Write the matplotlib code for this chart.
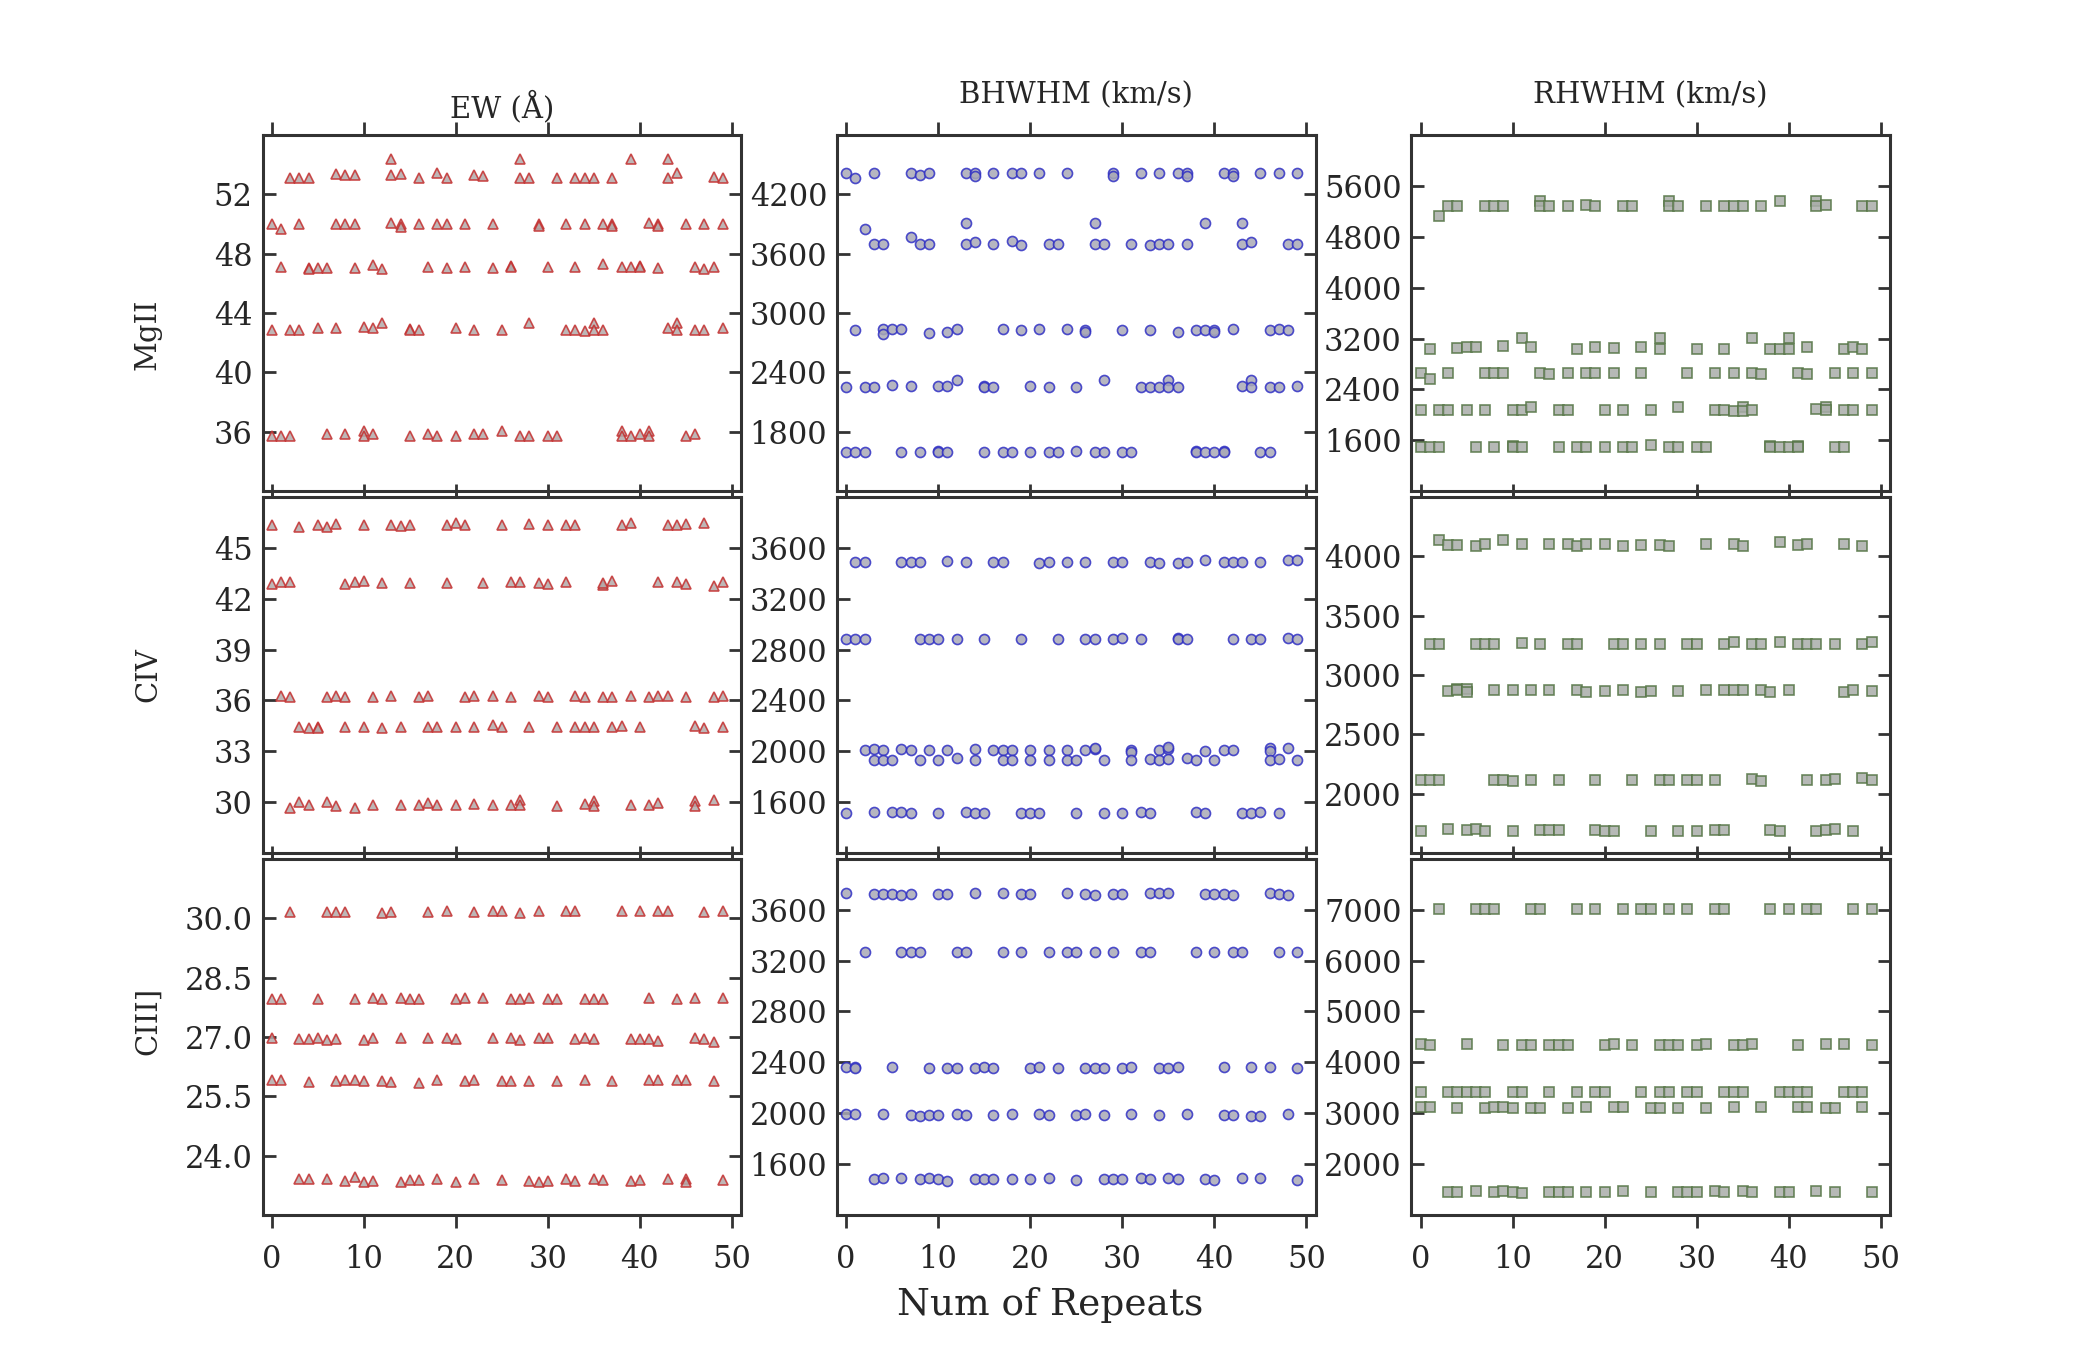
import matplotlib
matplotlib.use('Agg')
import matplotlib.pyplot as plt
from matplotlib.ticker import FormatStrFormatter

plt.rcParams['font.family'] = ['DejaVu Serif', 'DejaVu Sans']

# ---------------- data ----------------
lines = ['MgII', 'CIV', 'CIII]']
columns = ['EW (Å)', 'BHWHM (km/s)', 'RHWHM (km/s)']

mgii_ew_x = [2,3,4,7,8,9,13,13,14,16,18,19,22,23,27,27,28,31,33,34,35,37,39,43,43,44,48,49,
             0,1,3,7,8,9,13,14,14,16,18,19,21,24,29,29,32,34,36,37,37,41,42,42,45,47,49,
             1,4,4,5,6,9,11,12,17,19,21,24,26,26,30,33,36,38,39,40,40,42,46,47,48,
             0,2,3,5,7,10,11,12,15,15,16,20,22,25,28,32,33,34,35,35,36,43,44,44,46,47,49,
             0,1,2,6,8,10,10,11,15,17,18,20,22,23,25,27,28,30,31,38,38,39,40,41,41,45,46]
mgii_ew_y = [53.07,53.12,53.12,53.36,53.30,53.30,54.37,53.30,53.39,53.07,53.43,53.07,53.30,53.25,54.37,53.12,53.12,53.12,53.07,53.12,53.12,53.12,54.37,54.37,53.12,53.43,53.16,53.12,
             50.0,49.65,50.0,50.0,50.0,50.0,50.05,50.0,49.8,50.0,50.0,50.0,50.0,50.0,50.0,49.85,50.0,50.0,50.0,50.0,49.85,50.05,50.0,49.85,50.0,50.0,50.0,
             47.10,47.03,46.98,47.03,47.03,47.03,47.26,46.99,47.10,47.03,47.10,47.03,47.19,47.12,47.10,47.10,47.30,47.10,47.10,47.19,47.10,47.03,47.10,46.99,47.10,
             42.85,42.85,42.89,43.0,43.0,43.05,43.0,43.34,42.93,42.85,42.85,43.0,42.85,42.85,43.34,42.85,42.85,42.78,43.3,42.85,42.85,43.0,43.34,42.85,42.85,42.85,43.0,
             35.74,35.74,35.74,35.85,35.85,36.07,35.74,35.85,35.74,35.85,35.74,35.74,35.85,35.85,36.07,35.74,35.74,35.74,35.74,36.07,35.70,35.74,35.85,36.07,35.70,35.74,35.85]

mgii_bh_x = [0,1,3,7,8,9,13,14,14,16,18,19,21,24,29,29,32,34,36,37,37,41,42,42,45,47,49,
             2,3,4,7,8,9,13,13,14,16,18,19,22,23,27,27,28,31,33,34,35,37,39,43,43,44,48,49,
             1,4,4,5,6,9,11,12,17,19,21,24,26,26,30,33,36,38,39,40,40,42,46,47,48,
             0,2,3,5,7,10,11,12,15,15,16,20,22,25,28,32,33,34,35,35,36,43,44,44,46,47,49,
             0,1,2,6,8,10,10,11,15,17,18,20,22,23,25,27,28,30,31,38,38,39,40,41,41,45,46]
mgii_bh_y = [4414,4361,4414,4414,4398,4414,4414,4414,4384,4414,4420,4414,4414,4414,4414,4384,4414,4414,4414,4414,4384,4414,4414,4384,4414,4414,4414,
             3845,3694,3694,3774,3694,3694,3912,3694,3717,3694,3724,3687,3694,3694,3912,3694,3694,3694,3687,3694,3694,3694,3912,3912,3694,3717,3694,3694,
             2829,2836,2792,2839,2839,2799,2809,2836,2836,2832,2836,2836,2826,2809,2829,2829,2809,2829,2829,2829,2809,2836,2829,2836,2829,
             2249,2249,2249,2273,2263,2263,2263,2326,2263,2249,2249,2263,2249,2249,2323,2249,2249,2249,2326,2249,2249,2263,2326,2249,2249,2249,2263,
             1592,1592,1592,1592,1592,1609,1592,1592,1592,1592,1592,1592,1592,1592,1609,1592,1592,1592,1592,1609,1592,1592,1592,1609,1592,1592,1592]

mgii_rh_x = [2,3,4,7,8,9,13,13,14,16,18,19,22,23,27,27,28,31,33,34,35,37,39,43,43,44,48,49,
             1,4,5,6,9,11,12,17,19,21,24,26,26,30,33,36,38,39,40,40,42,46,47,48,
             0,1,3,7,8,9,13,14,16,18,19,21,24,29,32,34,36,37,41,42,45,47,49,
             0,2,3,5,7,10,11,12,15,16,20,22,25,28,32,33,34,35,35,36,43,44,44,46,47,49,
             0,1,2,6,8,10,10,11,15,17,18,20,22,23,25,27,28,30,31,38,38,39,40,41,41,45,46]
mgii_rh_y = [5119,5276,5276,5291,5291,5291,5370,5276,5291,5276,5302,5276,5291,5291,5370,5276,5276,5276,5276,5276,5276,5276,5370,5370,5276,5302,5276,5276,
             3038,3053,3064,3064,3080,3205,3064,3038,3069,3053,3064,3205,3038,3038,3038,3205,3038,3038,3205,3038,3069,3038,3069,3038,
             2656,2567,2656,2656,2656,2656,2656,2646,2656,2656,2656,2656,2656,2656,2656,2656,2656,2646,2656,2646,2656,2656,2656,
             2081,2081,2081,2081,2081,2081,2081,2123,2081,2081,2081,2081,2081,2123,2081,2081,2060,2123,2060,2081,2097,2123,2081,2081,2081,2081,
             1490,1490,1490,1500,1500,1511,1490,1490,1490,1500,1490,1490,1500,1500,1521,1490,1490,1490,1490,1511,1490,1490,1500,1511,1495,1490,1500]

civ_ew_x = [0,3,5,6,7,10,13,14,15,19,20,21,25,28,30,32,33,38,39,43,44,45,47,
            0,1,2,8,9,10,12,15,19,23,26,27,29,30,32,36,36,37,42,44,45,48,49,
            1,2,6,7,8,11,13,16,17,21,22,24,26,29,30,33,34,36,37,39,41,42,43,45,48,49,
            3,4,5,5,8,10,12,14,17,18,20,22,24,25,28,31,33,34,35,37,38,40,46,47,49,
            2,3,4,6,7,9,11,14,16,17,18,20,22,24,26,27,27,31,34,35,35,39,41,42,46,46,48]
civ_ew_y = [46.37,46.22,46.37,46.22,46.41,46.33,46.37,46.29,46.33,46.37,46.47,46.33,46.33,46.41,46.33,46.33,46.33,46.37,46.45,46.37,46.33,46.41,46.45,
            42.88,43.0,43.0,42.88,43.0,43.04,42.94,42.94,42.94,42.94,43.0,43.0,42.94,42.88,43.0,42.80,42.94,43.04,43.0,43.0,42.88,42.75,43.0,
            36.29,36.18,36.22,36.29,36.18,36.22,36.29,36.22,36.25,36.22,36.25,36.29,36.18,36.29,36.22,36.25,36.18,36.22,36.18,36.25,36.22,36.29,36.25,36.18,36.18,36.25,
            34.45,34.35,34.41,34.35,34.41,34.41,34.37,34.45,34.41,34.45,34.45,34.45,34.53,34.45,34.45,34.41,34.41,34.41,34.41,34.45,34.49,34.45,34.49,34.37,34.45,
            29.67,30.02,29.86,30.02,29.80,29.67,29.82,29.82,29.82,29.98,29.82,29.82,29.90,29.86,29.86,30.14,29.86,29.80,29.90,30.10,29.75,29.82,29.86,29.94,30.06,29.78,30.14]

civ_bh_x = [1,2,6,7,8,11,13,16,17,21,22,24,26,29,30,33,34,36,37,39,41,42,43,45,48,49,
            0,1,2,8,9,10,12,15,19,23,26,27,29,30,32,36,36,37,42,44,45,48,49,
            2,3,4,6,7,9,11,14,16,17,18,20,22,24,26,27,27,31,31,34,35,35,39,41,42,46,46,48,
            3,4,5,8,10,12,14,17,18,20,22,24,25,28,31,33,34,35,37,38,40,46,47,49,
            0,3,5,6,7,10,13,14,15,19,20,21,25,28,30,32,33,38,39,43,44,45,47]
civ_bh_y = [3485,3485,3485,3485,3490,3498,3490,3485,3485,3477,3485,3485,3490,3485,3485,3485,3477,3477,3490,3506,3485,3485,3485,3490,3503,3506,
            2881,2881,2881,2881,2881,2881,2884,2881,2881,2881,2881,2881,2884,2892,2881,2892,2881,2884,2881,2881,2881,2892,2881,
            2008,2019,2013,2019,2013,2008,2008,2019,2013,2013,2013,2008,2013,2008,2013,2019,2026,2013,1992,2013,2019,2032,2000,2013,2013,2026,2000,2026,
            1932,1932,1932,1932,1932,1945,1932,1932,1932,1932,1932,1932,1932,1932,1932,1940,1932,1940,1945,1932,1932,1932,1940,1932,
            1519,1525,1525,1525,1519,1519,1525,1519,1519,1519,1519,1519,1519,1519,1519,1525,1519,1525,1519,1519,1519,1525,1519]

civ_rh_x = [2,3,4,6,7,9,11,14,16,17,18,20,22,24,26,27,31,34,35,39,41,42,46,48,
            1,2,6,7,8,11,13,16,17,21,22,24,26,29,30,33,34,36,37,39,41,42,43,45,48,49,
            3,4,4,5,5,8,10,12,14,17,18,20,22,24,25,28,31,33,34,35,37,38,40,46,47,49,
            0,1,2,8,9,10,12,15,19,23,26,27,29,30,32,36,37,42,44,45,48,49,
            0,3,5,6,7,10,13,14,15,19,20,21,25,28,30,32,33,38,39,43,44,45,47]
civ_rh_y = [4134,4095,4095,4084,4101,4134,4106,4101,4101,4084,4101,4101,4084,4095,4095,4084,4106,4101,4084,4117,4095,4101,4101,4084,
            3257,3257,3263,3263,3257,3268,3263,3257,3257,3257,3257,3263,3257,3257,3257,3263,3274,3263,3257,3279,3257,3257,3257,3257,3263,3279,
            2866,2886,2872,2886,2858,2872,2872,2877,2872,2872,2861,2866,2872,2858,2866,2866,2872,2872,2872,2877,2877,2858,2872,2858,2877,2866,
            2112,2112,2112,2112,2112,2106,2117,2112,2112,2112,2112,2112,2112,2117,2112,2123,2106,2112,2112,2123,2129,2112,
            1690,1704,1693,1704,1690,1690,1693,1693,1693,1693,1690,1690,1690,1690,1690,1693,1693,1693,1690,1690,1693,1699,1690]

ciii_ew_x = [2,6,7,8,12,13,17,19,22,24,25,27,29,32,33,38,40,42,43,47,49,
             0,1,5,9,11,12,14,15,16,20,21,23,26,27,28,30,31,34,35,36,41,44,46,49,
             0,3,4,5,6,7,10,11,14,17,19,20,24,26,27,29,30,33,34,35,39,40,41,42,46,47,48,
             0,1,4,7,8,9,10,12,13,16,18,21,22,25,26,28,31,34,37,41,42,44,45,48,
             3,4,6,8,9,10,11,14,15,16,18,20,22,25,28,29,30,32,33,35,36,39,40,43,45,45,49]
ciii_ew_y = [30.15,30.15,30.15,30.15,30.13,30.15,30.15,30.17,30.15,30.17,30.17,30.13,30.17,30.17,30.17,30.17,30.17,30.17,30.17,30.15,30.17,
             27.97,27.97,27.97,27.97,27.99,27.97,27.99,27.95,27.95,27.95,27.99,27.99,27.97,27.97,27.99,27.97,27.95,27.95,27.95,27.97,27.99,27.97,27.99,27.99,
             26.96,26.94,26.94,26.97,26.92,26.94,26.92,26.97,26.97,26.97,26.97,26.94,26.97,26.97,26.92,26.97,26.97,26.94,26.97,26.94,26.94,26.94,26.94,26.90,26.97,26.94,26.88,
             25.91,25.91,25.86,25.88,25.91,25.91,25.88,25.88,25.86,25.84,25.91,25.88,25.91,25.88,25.88,25.88,25.89,25.91,25.89,25.91,25.91,25.91,25.91,25.89,
             23.42,23.42,23.42,23.36,23.45,23.34,23.36,23.34,23.39,23.39,23.42,23.34,23.42,23.39,23.36,23.34,23.36,23.42,23.36,23.42,23.39,23.36,23.39,23.42,23.42,23.34,23.39]

ciii_bh_x = [0,3,4,5,6,7,10,11,14,17,19,20,24,26,27,29,30,33,34,35,39,40,41,42,46,47,48,
             2,6,7,8,12,13,17,19,22,24,25,27,29,32,33,38,40,42,43,47,49,
             0,1,1,5,9,11,12,14,15,16,20,21,23,26,27,28,30,31,34,35,36,41,44,46,49,
             0,1,4,7,8,9,10,12,13,16,18,21,22,25,26,28,31,34,37,41,42,44,45,48,
             3,4,6,8,9,10,11,14,15,16,18,20,22,25,28,29,30,32,33,35,36,39,40,43,45,49]
ciii_bh_y = [3728,3723,3723,3723,3715,3723,3723,3725,3728,3728,3723,3720,3728,3723,3715,3725,3725,3728,3728,3728,3725,3723,3723,3715,3728,3723,3715,
             3268,3268,3268,3268,3268,3268,3268,3268,3268,3268,3268,3268,3268,3268,3268,3268,3268,3268,3268,3268,3268,
             2366,2366,2353,2366,2356,2353,2358,2353,2361,2358,2358,2366,2353,2358,2358,2356,2358,2361,2358,2358,2364,2364,2366,2366,2353,
             1992,1992,1992,1987,1982,1990,1990,1992,1987,1990,1992,1992,1987,1990,1992,1987,1992,1990,1992,1987,1987,1982,1979,1992,
             1485,1490,1490,1485,1490,1483,1470,1483,1485,1485,1483,1483,1490,1478,1483,1483,1483,1490,1483,1490,1483,1483,1478,1490,1490,1478]

ciii_rh_x = [2,6,7,8,12,13,17,19,22,24,25,27,29,32,33,38,40,42,43,47,49,
             0,1,5,9,11,12,14,15,16,20,21,23,26,27,28,30,31,34,35,36,41,44,46,49,
             0,3,4,5,6,7,10,11,14,17,19,20,24,26,27,29,30,33,34,35,39,40,41,42,46,47,48,
             0,1,4,7,8,9,10,12,13,16,18,21,22,25,26,28,31,34,37,41,42,44,45,48,
             3,4,6,8,9,10,11,14,15,16,18,20,22,25,28,29,30,32,33,35,36,39,40,43,45,49]
ciii_rh_y = [7013,7013,7013,7013,7006,7013,7013,7013,7013,7013,7013,7006,7013,7013,7013,7013,7013,7013,7013,7013,7013,
             4359,4346,4359,4346,4346,4346,4346,4346,4346,4346,4359,4340,4346,4346,4346,4346,4359,4346,4346,4359,4346,4359,4353,4340,
             3425,3425,3425,3425,3425,3425,3425,3425,3425,3425,3425,3425,3425,3425,3425,3425,3425,3425,3425,3425,3425,3425,3425,3425,3425,3425,3425,
             3124,3124,3111,3111,3124,3124,3111,3111,3111,3111,3124,3124,3124,3111,3111,3111,3111,3124,3124,3124,3124,3111,3111,3124,
             1457,1457,1464,1444,1464,1444,1425,1444,1457,1457,1444,1444,1464,1444,1457,1457,1457,1464,1457,1464,1457,1457,1444,1464,1457,1444]

panel_data = [
    [(mgii_ew_x, mgii_ew_y), (mgii_bh_x, mgii_bh_y), (mgii_rh_x, mgii_rh_y)],
    [(civ_ew_x, civ_ew_y), (civ_bh_x, civ_bh_y), (civ_rh_x, civ_rh_y)],
    [(ciii_ew_x, ciii_ew_y), (ciii_bh_x, ciii_bh_y), (ciii_rh_x, ciii_rh_y)],
]

ylims = [
    [(32, 56), (1200, 4800), (800, 6400)],
    [(27, 48), (1200, 4000), (1500, 4500)],
    [(22.5, 31.5), (1200, 4000), (1000, 8000)],
]
yticks = [
    [[36, 40, 44, 48, 52], [1800, 2400, 3000, 3600, 4200], [1600, 2400, 3200, 4000, 4800, 5600]],
    [[30, 33, 36, 39, 42, 45], [1600, 2000, 2400, 2800, 3200, 3600], [2000, 2500, 3000, 3500, 4000]],
    [[24.0, 25.5, 27.0, 28.5, 30.0], [1600, 2000, 2400, 2800, 3200, 3600], [2000, 3000, 4000, 5000, 6000, 7000]],
]
xticks = [0, 10, 20, 30, 40, 50]

# ---------------- styles ----------------
markers = ['^', 'o', 's']
faces = ['#b3a9a9', '#a9a9b6', '#a9ada9']
edges = ['#c42f2f', '#2f2fc4', '#557545']
spine_col = '#333333'
text_col = '#262626'
row_label_y = [0.44, 0.5, 0.545]

fig, axes = plt.subplots(3, 3, figsize=(10.5, 6.75), dpi=200)
fig.subplots_adjust(left=0.125, right=0.9, top=0.9, bottom=0.1, wspace=0.2, hspace=0.016)

for r in range(3):
    for c in range(3):
        ax = axes[r, c]
        x, y = panel_data[r][c]
        ax.plot(x, y, ls='none', marker=markers[c], ms=3.6, mfc=faces[c],
                mec=edges[c], mew=0.6, alpha=0.85)
        ax.set_xlim(-1, 51)
        ax.set_ylim(*ylims[r][c])
        ax.set_xticks(xticks)
        ax.set_yticks(yticks[r][c])
        if r == 2 and c == 0:
            ax.yaxis.set_major_formatter(FormatStrFormatter('%.1f'))
        ax.tick_params(axis='x', direction='out', top=True, bottom=True,
                       length=4.8, width=1.0, color=spine_col, pad=5.5,
                       labelbottom=(r == 2), labelsize=11, labelcolor=text_col)
        ax.tick_params(axis='y', direction='in', left=True, right=True,
                       length=4.5, width=1.0, color=spine_col,
                       labelsize=11, labelcolor=text_col)
        for s in ax.spines.values():
            s.set_linewidth(1.1)
            s.set_color(spine_col)
        if r == 0:
            ax.set_title(columns[c], fontsize=10.5, color=text_col,
                         pad=(6.5 if c == 0 else 11.5))
        if c == 0:
            ax.set_ylabel(lines[r], fontsize=10.5, color=text_col)
            ax.yaxis.set_label_coords(-0.21, row_label_y[r])

fig.text(0.5, 0.047, 'Num of Repeats', ha='center', va='top',
         fontsize=13.5, color=text_col)

fig.savefig('out.png', dpi=200, facecolor='white')
